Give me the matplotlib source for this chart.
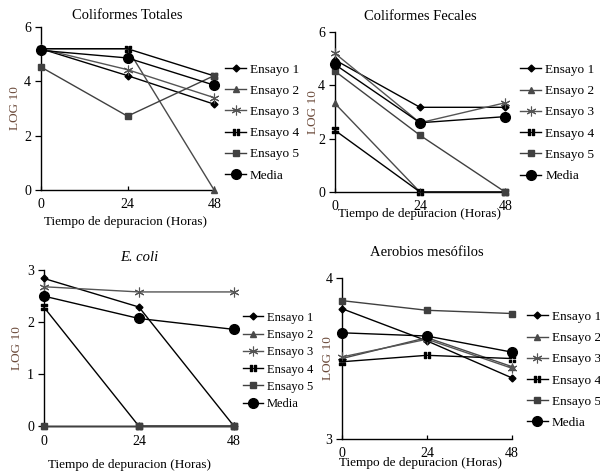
import numpy as np
import matplotlib
matplotlib.use("Agg")
import matplotlib.pyplot as plt
from matplotlib.path import Path

plt.rcParams['font.family'] = ['Liberation Serif', 'DejaVu Serif']

# ── Data (log10 counts) ───────────────────────────────────────────────────────
hours = [0, 24, 48]
labels = ["Ensayo 1", "Ensayo 2", "Ensayo 3", "Ensayo 4", "Ensayo 5", "Media"]

# Coliformes Totales
ct_e1 = [5.20, 4.21, 3.16]
ct_e2 = [5.20, 5.20, 0.00]
ct_e3 = [5.20, 4.43, 3.40]
ct_e4 = [5.20, 5.20, 4.20]
ct_e5 = [4.53, 2.72, 4.21]
ct_media = [5.14, 4.86, 3.86]

# Coliformes Fecales
cf_e1 = [4.96, 3.18, 3.18]
cf_e2 = [3.33, 0.00, 0.00]
cf_e3 = [5.21, 2.60, 3.35]
cf_e4 = [2.32, 0.00, 0.00]
cf_e5 = [4.54, 2.13, 0.00]
cf_media = [4.79, 2.60, 2.83]

# E. coli
ec_e1 = [2.84, 2.29, 0.00]
ec_e2 = [0.00, 0.00, 0.00]
ec_e3 = [2.68, 2.58, 2.58]
ec_e4 = [2.29, 0.00, 0.00]
ec_e5 = [0.00, 0.00, 0.00]
ec_media = [2.50, 2.07, 1.86]

# Aerobios mesofilos
am_e1 = [3.81, 3.61, 3.38]
am_e2 = [3.50, 3.63, 3.45]
am_e3 = [3.51, 3.62, 3.44]
am_e4 = [3.48, 3.52, 3.50]
am_e5 = [3.86, 3.80, 3.78]
am_media = [3.66, 3.64, 3.54]

# ── Styles ────────────────────────────────────────────────────────────────────
def four_squares():
    verts, codes = [], []
    for cx, cy in [(-0.55, -0.55), (0.55, -0.55), (-0.55, 0.55), (0.55, 0.55)]:
        h = 0.4
        sq = [(cx - h, cy - h), (cx + h, cy - h), (cx + h, cy + h), (cx - h, cy + h), (cx - h, cy - h)]
        verts += sq
        codes += [Path.MOVETO, Path.LINETO, Path.LINETO, Path.LINETO, Path.CLOSEPOLY]
    return Path(verts, codes)

styles = [
    dict(marker='D', ms=3.5, color='black'),
    dict(marker='^', ms=5, color='#4a4a4a'),
    dict(marker=(6, 2, 0), ms=7, color='#555555', mew=0.8),
    dict(marker=four_squares(), ms=5, color='black'),
    dict(marker='s', ms=5, color='#404040'),
    dict(marker='o', ms=7, color='black'),
]

# title, series, yticks, ylim, axes rect, legend anchor, label spacing,
# title pad, ylabel x, xlabel (x, y) in axes fraction
panels = [
    ("Coliformes Totales", [ct_e1, ct_e2, ct_e3, ct_e4, ct_e5, ct_media], [0, 2, 4, 6], (0, 6),
     [0.068, 0.598, 0.289, 0.345], (0.375, 0.741), 0.68, 6, -0.116, (0.49, -0.16)),
    ("Coliformes Fecales", [cf_e1, cf_e2, cf_e3, cf_e4, cf_e5, cf_media], [0, 2, 4, 6], (0, 6),
     [0.558, 0.594, 0.284, 0.338], (0.867, 0.740), 0.68, 9, -0.094, (0.5, -0.10)),
    ("E. coli", [ec_e1, ec_e2, ec_e3, ec_e4, ec_e5, ec_media], [0, 1, 2, 3], (0, 3),
     [0.073, 0.099, 0.317, 0.330], (0.405, 0.237), 0.42, 6.5, -0.11, (0.45, -0.21)),
    ("Aerobios mesófilos", [am_e1, am_e2, am_e3, am_e4, am_e5, am_media], [3, 4], (3, 4),
     [0.570, 0.072, 0.283, 0.340], (0.878, 0.218), 0.68, 16, -0.047, (0.46, -0.11)),
]

fig = plt.figure(figsize=(6, 4.73), dpi=100)

for title, series, yticks, ylim, rect, leg_xy, lspace, tpad, ylx, xl in panels:
    ax = fig.add_axes(rect)
    for vals, lab, st in zip(series, labels, styles):
        ax.plot(hours, vals, label=lab, lw=1.0, clip_on=False,
                marker=st['marker'], ms=st['ms'], color=st['color'],
                mfc=st['color'], mec=st['color'], mew=st.get('mew', 1.0), zorder=3)
    ax.set_xlim(0, 48)
    ax.set_ylim(*ylim)
    ax.set_xticks(hours)
    ax.set_yticks(yticks)
    for side in ['top', 'right']:
        ax.spines[side].set_visible(False)
    for side in ['left', 'bottom']:
        ax.spines[side].set_linewidth(1.0)
    ax.tick_params(axis='y', direction='out', length=4, width=0.9, labelsize=10, pad=3)
    ax.tick_params(axis='x', direction='in', length=3, width=0.9, labelsize=10, pad=6)
    if title == "E. coli":
        ax.set_title(title, fontsize=10.5, style='italic', pad=tpad)
    else:
        ax.set_title(title, fontsize=10.5, pad=tpad)
    ax.set_xlabel("Tiempo de depuracion (Horas)", fontsize=9.5)
    ax.xaxis.set_label_coords(*xl)
    ax.set_ylabel("LOG 10", fontsize=9.5, color='#6b4a3a')
    ax.yaxis.set_label_coords(ylx, 0.5)
    fs = 9 if title == "E. coli" else 9.5
    ax.legend(loc='center left', bbox_to_anchor=leg_xy, bbox_transform=fig.transFigure,
              frameon=False, fontsize=fs, borderpad=0, borderaxespad=0,
              handlelength=1.6, handletextpad=0.3, labelspacing=lspace)

plt.savefig("out.png", dpi=100)
